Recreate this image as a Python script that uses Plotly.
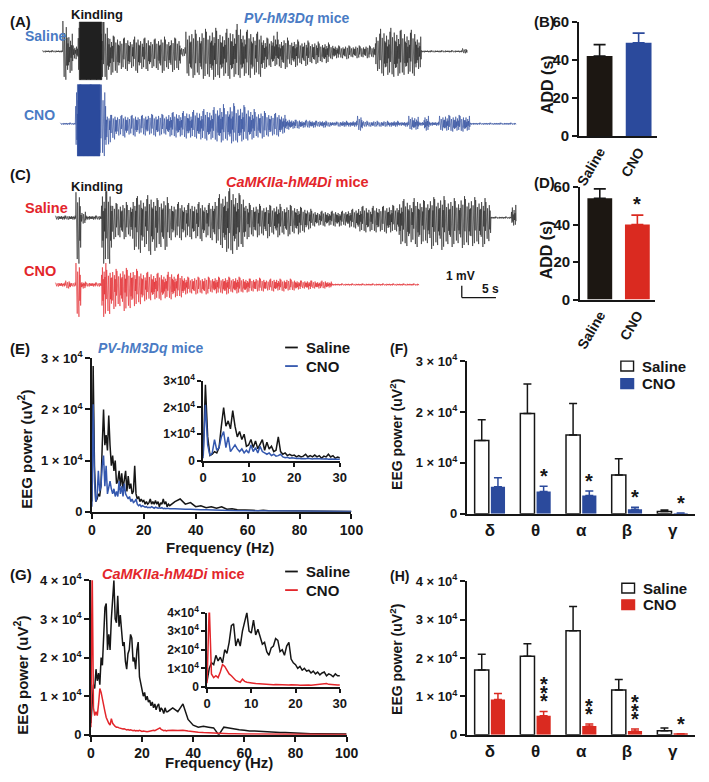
import plotly.graph_objects as go

W, H = 709, 782
FONT = "Liberation Sans"
INK = "#161616"
BLUE = "#2b4a9c"
BLUE_LINE = "#3357ae"
BLUE_TXT = "#4a7bc4"
RED = "#e3262b"
RED_BAR = "#da2a20"

# ---------------- EEG traces (envelope per 0.75 s bin; 12 units = 1 mV) ----------------
BIN_S = 0.75
UNITS_PER_MV = 12

a_sal_up = [1, 1, 1, 1, 31, 18, 6, 30, 30, 30, 30, 30, 30,
            16, 15, 13, 14, 12, 15, 13, 14, 12, 13, 15, 12, 14, 13,
            4,
            20, 22, 18, 23, 20, 24, 21, 19, 23, 22, 28, 20, 22, 18, 20,
            14, 13, 20, 12, 14, 11, 12, 10, 11, 9, 10, 8, 9,
            7, 6, 5, 6, 5, 6, 5, 6, 5,
            18, 23, 20, 24, 21, 22, 19, 22, 15,
            1, 1, 1, 1, 1, 1, 1, 1, 3]
a_sal_dn = [1, 1, 1, 1, 29, 22, 8, 29, 29, 29, 29, 29, 29,
            24, 22, 18, 20, 17, 22, 18, 20, 17, 19, 22, 18, 21, 19,
            5,
            25, 27, 24, 28, 26, 29, 27, 25, 28, 26, 27, 25, 27, 24, 26,
            18, 16, 15, 17, 18, 14, 16, 13, 15, 12, 13, 11, 12,
            8, 7, 7, 8, 6, 7, 6, 7, 6,
            20, 25, 24, 26, 25, 24, 23, 25, 18,
            1, 1, 1, 1, 1, 1, 1, 1, 2]
a_sal_stim_s = [(5.4, 8.7)]

a_cno_up = [1, 1, 1, 40, 40, 40, 40, 40, 40,
            9, 9, 8, 9, 8, 9, 8, 9, 10, 9, 10, 9,
            11, 12, 11, 13, 12, 14, 13, 15, 14,
            17, 20, 16, 21, 18, 19, 17,
            15, 12, 13, 11, 10, 11, 9,
            5, 4, 4, 3, 4, 3, 3, 3, 2, 2, 2, 3, 2, 3,
            8, 3, 2, 3, 2, 3, 2, 3, 2, 2,
            8, 7, 2, 8, 2, 2, 8, 9, 8, 9, 8, 8,
            1, 1, 1, 1, 1, 1, 1, 1, 1]
a_cno_dn = [1, 1, 1, 33, 33, 33, 33, 33, 33,
            21, 16, 12, 14, 11, 13, 10, 12, 11, 13, 12, 11,
            13, 14, 13, 15, 14, 15, 16, 17, 16,
            18, 19, 17, 20, 19, 18, 17,
            16, 14, 15, 13, 12, 13, 10,
            6, 5, 5, 4, 4, 4, 3, 4, 3, 2, 3, 3, 3, 3,
            7, 3, 3, 3, 3, 3, 3, 3, 2, 3,
            6, 6, 2, 7, 2, 2, 7, 7, 8, 7, 8, 7,
            1, 1, 1, 1, 1, 1, 1, 1, 1]
a_cno_stim_s = [(2.5, 5.8)]

c_sal_up = [2, 2, 2, 2, 26, 6, 2, 2, 2, 27, 27,
            15, 14, 16, 13, 20, 22, 19, 23, 20, 18, 21, 15, 14, 16, 13, 15, 14, 16, 13, 15,
            20, 24, 27, 30, 25, 23,
            15, 13, 14, 12, 13, 12, 14, 11, 13, 12, 11, 10, 9,
            7, 6, 7, 6, 7, 6, 7, 8,
            9, 11, 12, 10, 12, 11, 12, 13, 12,
            17, 19, 16, 20, 18, 17, 21, 19, 22, 18, 20, 17, 22, 19, 21, 18, 20, 16,
            1, 1, 1, 1, 13]
c_sal_dn = [2, 2, 2, 2, 47, 6, 2, 2, 2, 47, 47,
            22, 20, 22, 19, 33, 36, 30, 38, 34, 30, 33, 23, 20, 23, 20, 22, 21, 24, 20, 23,
            26, 31, 35, 37, 33, 30,
            22, 19, 20, 18, 21, 17, 20, 17, 19, 16, 17, 15, 12,
            9, 8, 9, 8, 9, 9, 8, 10,
            11, 14, 15, 14, 15, 14, 16, 15, 14,
            27, 29, 25, 30, 27, 26, 32, 28, 33, 27, 30, 26, 31, 28, 29, 27, 30, 24,
            1, 1, 1, 1, 8]
c_sal_stim_s = []

c_cno_up = [2, 2, 4, 2, 22, 3, 2, 2, 2, 22, 15,
            16, 14, 17, 15, 16, 14, 12, 13, 11, 12, 10, 13, 10, 11,
            8, 7, 8, 7, 8, 7, 8, 7, 8, 7, 8, 7, 6,
            6, 7, 6, 5, 6, 6, 5, 6, 5, 4, 4, 4, 4, 3, 4, 3,
            1, 1, 1, 1, 1, 1, 1, 1, 1, 1, 1, 1, 1, 1, 1, 1, 1]
c_cno_dn = [2, 2, 4, 2, 33, 4, 2, 2, 2, 33, 30,
            25, 22, 27, 24, 22, 20, 17, 16, 15, 16, 14, 15, 13, 13,
            10, 9, 10, 9, 10, 8, 9, 9, 10, 8, 9, 8, 8,
            7, 7, 7, 6, 7, 6, 7, 6, 6, 5, 4, 5, 4, 4, 4, 3,
            1, 1, 1, 1, 1, 1, 1, 1, 1, 1, 1, 1, 1, 1, 1, 1, 1]
c_cno_stim_s = []

# ---------------- Power spectra (x10^4 uV^2) ----------------
freq_hz = [i * 0.5 for i in range(61)] + list(range(32, 101, 2))

e_saline = [0.2, 2.85, 0.9, 0.2, 0.25, 0.35, 0.3, 0.5, 1.3, 2.0,
            1.3, 1.5, 1.2, 1.88, 1.3, 0.9, 1.1, 0.8, 1.0, 0.55,
            0.6, 0.8, 0.5, 0.75, 0.45, 0.6, 0.8, 0.4, 0.7, 0.45,
            0.55, 0.35, 0.4, 0.9, 0.35, 0.25, 0.3, 0.2, 0.25, 0.2,
            0.22, 0.15, 0.2, 0.15, 0.18, 0.25, 0.15, 0.2, 0.15, 0.22,
            0.15, 0.2, 0.1, 0.18, 0.15, 0.25, 0.15, 0.2, 0.1, 0.15, 0.12,
            0.2, 0.25, 0.15, 0.18, 0.1, 0.12, 0.08, 0.1, 0.07, 0.1,
            0.05, 0.06, 0.04, 0.04, 0.03, 0.03, 0.02, 0.03, 0.02, 0.02,
            0.02, 0.015, 0.02, 0.015, 0.015, 0.01, 0.015, 0.01, 0.01, 0.01,
            0.01, 0.008, 0.008, 0.008, 0.008]
e_cno = [0.1, 2.1, 0.6, 0.2, 0.3, 0.8, 0.4, 0.5, 0.9, 1.1,
         0.5, 0.9, 0.35, 0.5, 0.6, 0.45, 0.35, 0.45, 0.3, 0.4,
         0.3, 0.6, 0.35, 0.5, 0.3, 0.55, 0.35, 0.3, 0.25, 0.3,
         0.2, 0.25, 0.18, 0.2, 0.25, 0.15, 0.12, 0.14, 0.1, 0.12,
         0.1, 0.09, 0.1, 0.08, 0.09, 0.08, 0.1, 0.08, 0.07, 0.09,
         0.08, 0.07, 0.08, 0.07, 0.08, 0.06, 0.07, 0.06, 0.07, 0.06, 0.06,
         0.06, 0.05, 0.05, 0.05, 0.04, 0.04, 0.04, 0.035, 0.03, 0.03,
         0.025, 0.02, 0.02, 0.02, 0.02, 0.015, 0.015, 0.015, 0.015, 0.015,
         0.01, 0.01, 0.01, 0.01, 0.01, 0.01, 0.01, 0.01, 0.01, 0.01,
         0.008, 0.008, 0.008, 0.008, 0.008]
g_saline = [0.3, 1.0, 1.3, 1.2, 1.7, 1.4, 1.6, 1.3, 2.0, 1.8,
            2.4, 3.3, 3.4, 2.2, 2.6, 2.2, 3.0, 3.6, 4.0, 3.0,
            2.9, 3.6, 2.8, 3.1, 2.7, 2.3, 2.4, 1.9, 1.7, 2.1,
            2.2, 2.6, 2.5, 1.9, 2.0, 1.7, 2.2, 2.4, 1.5, 1.3,
            1.2, 1.0, 1.1, 0.9, 1.0, 0.85, 0.9, 0.75, 0.85, 0.7,
            0.8, 0.65, 0.75, 0.8, 0.6, 0.7, 0.65, 0.55, 0.7, 0.6, 0.6,
            0.7, 0.6, 0.8, 0.4, 0.25, 0.2, 0.22, 0.2, 0.18, 0.0,
            0.2, 0.18, 0.15, 0.13, 0.12, 0.1, 0.1, 0.09, 0.08, 0.08,
            0.07, 0.06, 0.06, 0.05, 0.05, 0.04, 0.04, 0.03, 0.03, 0.03,
            0.02, 0.02, 0.02, 0.02, 0.02]
g_cno = [0.2, 4.4, 0.7, 0.5, 0.6, 0.5, 0.8, 1.2, 1.1, 0.9,
         0.7, 0.6, 0.45, 0.35, 0.3, 0.25, 0.42, 0.3, 0.25, 0.22,
         0.2, 0.2, 0.18, 0.17, 0.16, 0.15, 0.16, 0.14, 0.13, 0.14,
         0.12, 0.13, 0.12, 0.11, 0.12, 0.1, 0.11, 0.1, 0.12, 0.1,
         0.09, 0.1, 0.09, 0.1, 0.08, 0.09, 0.1, 0.09, 0.1, 0.12,
         0.11, 0.13, 0.14, 0.16, 0.18, 0.14, 0.12, 0.11, 0.12, 0.1, 0.11,
         0.12, 0.11, 0.12, 0.1, 0.08, 0.07, 0.06, 0.05, 0.05, 0.04,
         0.03, 0.03, 0.03, 0.02, 0.02, 0.02, 0.02, 0.015, 0.015, 0.015,
         0.01, 0.01, 0.01, 0.01, 0.01, 0.01, 0.01, 0.01, 0.01, 0.01,
         0.01, 0.01, 0.01, 0.01, 0.01]

# ---------------- Bar data ----------------
add_groups = ["Saline", "CNO"]
b_add = [42, 49]
b_add_err = [6, 5]
d_add = [54, 40]
d_add_err = [5, 5]
d_sig = ["", "*"]

bands = ["δ", "θ", "α", "β", "γ"]
f_saline = [1.44, 1.97, 1.55, 0.76, 0.045]
f_saline_err = [0.41, 0.58, 0.62, 0.32, 0.03]
f_cno = [0.53, 0.44, 0.36, 0.09, 0.012]
f_cno_err = [0.18, 0.10, 0.09, 0.04, 0.005]
f_sig = ["", "*", "*", "*", "*"]

h_saline = [1.69, 2.05, 2.71, 1.17, 0.11]
h_saline_err = [0.41, 0.32, 0.63, 0.27, 0.07]
h_cno = [0.92, 0.50, 0.23, 0.10, 0.02]
h_cno_err = [0.16, 0.11, 0.05, 0.05, 0.01]
h_sig = ["", "***", "**", "***", "*"]

# ---------------- helpers ----------------
fig = go.Figure()
axes = {}
annotations = []
shapes = []
n_ax = [0]


def X(px):
    return px / W


def Y(px):
    return 1 - px / H


def add_axes(x_px, y_px, xr, yr, xkw=None, ykw=None):
    n_ax[0] += 1
    s = "" if n_ax[0] == 1 else str(n_ax[0])
    xa = dict(domain=[X(x_px[0]), X(x_px[1])], range=xr, anchor="y" + s, fixedrange=True)
    ya = dict(domain=[Y(y_px[1]), Y(y_px[0])], range=yr, anchor="x" + s, fixedrange=True)
    xa.update(xkw or {})
    ya.update(ykw or {})
    axes["xaxis" + s] = xa
    axes["yaxis" + s] = ya
    return "x" + s, "y" + s


def font(size, color=INK, bold=True):
    return dict(family=FONT, size=size, color=color, weight="bold" if bold else "normal")


def axstyle(size=14, **kw):
    d = dict(showline=True, linecolor=INK, linewidth=1.6, ticks="outside", ticklen=5,
             tickwidth=1.6, tickcolor=INK, showgrid=False, zeroline=False,
             tickfont=font(size))
    d.update(kw)
    return d


def label(s, xpx, ypx, size, color=INK, xanchor="left", yanchor="middle", angle=0):
    annotations.append(dict(text=s, x=X(xpx), y=Y(ypx), xref="paper", yref="paper",
                            showarrow=False, xanchor=xanchor, yanchor=yanchor,
                            textangle=angle, font=font(size, color)))


# sub-sample stroke pattern used to draw each envelope bin as dense EEG-like strokes
SUB_UP = [1.0, 0.35, 0.6, 0.25, 0.8, 0.45]
SUB_DN = [0.45, 0.9, 0.3, 1.0, 0.5, 0.65]


def zigzag(up, dn):
    t, v = [], []
    n = len(SUB_UP)
    for i, (u, d) in enumerate(zip(up, dn)):
        order = list(range(n)) if i % 2 == 0 else list(range(n - 1, -1, -1))
        for j, k in enumerate(order):
            t0 = (i + j / n) * BIN_S
            t += [t0, t0 + 0.5 * BIN_S / n]
            v += [u * SUB_UP[k], -d * SUB_DN[k]]
    return t, v


# ---------------- EEG panels ----------------
PX_PER_S = 7.0
PX_PER_MV = 12.0
hidden = dict(visible=False)
eeg_specs = [
    (a_sal_up, a_sal_dn, a_sal_stim_s, "#202020", 38.3, 43.3),
    (a_cno_up, a_cno_dn, a_cno_stim_s, BLUE, 56.7, 117.3),
    (c_sal_up, c_sal_dn, c_sal_stim_s, "#202020", 51.7, 213.3),
    (c_cno_up, c_cno_dn, c_cno_stim_s, RED, 51.7, 281.7),
]
for up, dn, stims, col, x0, base in eeg_specs:
    top, bot = max(0.0, base - 60), min(H, base + 60)
    k = UNITS_PER_MV / PX_PER_MV
    xa, ya = add_axes((0, 530), (top, bot),
                      [-x0 / PX_PER_S, (530 - x0) / PX_PER_S],
                      [-(bot - base) * k, (base - top) * k], hidden, hidden)
    t, v = zigzag(up, dn)
    fig.add_trace(go.Scatter(x=t, y=v, mode="lines", line=dict(color=col, width=0.6),
                             xaxis=xa, yaxis=ya, showlegend=False, hoverinfo="skip"))
    for s0, s1 in stims:
        i0, i1 = int(s0 / BIN_S), int(s1 / BIN_S) + 1
        hi, lo = max(up[i0:i1]), max(dn[i0:i1])
        fig.add_trace(go.Scatter(x=[s0, s1, s1, s0, s0], y=[hi, hi, -lo, -lo, hi], mode="lines",
                                 fill="toself", fillcolor=col, line=dict(color=col, width=0.5),
                                 xaxis=xa, yaxis=ya, showlegend=False, hoverinfo="skip"))

# scale bar (1 mV / 5 s)
sb_x, sb_y = 468, 295
shapes.append(dict(type="line", xref="paper", yref="paper", x0=X(sb_x), x1=X(sb_x),
                   y0=Y(sb_y), y1=Y(sb_y - PX_PER_MV), line=dict(color=INK, width=1.3)))
shapes.append(dict(type="line", xref="paper", yref="paper", x0=X(sb_x), x1=X(sb_x + 5 * PX_PER_S),
                   y0=Y(sb_y), y1=Y(sb_y), line=dict(color=INK, width=1.3)))
label("1 mV", 450, 273, 12)
label("5 s", 487, 286, 12)


# ---------------- ADD bars (B, D) ----------------
def add_bars(x_px, y_px, means, errs, cols, sig):
    xa, ya = add_axes(x_px, y_px, [-0.53, 1.47], [0, 60],
                      axstyle(14, ticks="", tickvals=[0, 1], ticktext=add_groups, tickangle=-60),
                      axstyle(15, tickvals=[0, 20, 40, 60]))
    for i in range(2):
        fig.add_trace(go.Bar(x=[i], y=[means[i]], width=0.66, marker=dict(color=cols[i], line=dict(width=0)),
                             error_y=dict(type="data", array=[errs[i]], arrayminus=[0], symmetric=False,
                                          color=cols[i] if i else INK, thickness=1.6, width=6),
                             xaxis=xa, yaxis=ya, showlegend=False, hoverinfo="skip"))
        if sig[i]:
            annotations.append(dict(text=sig[i], x=i, y=means[i] + errs[i], xref=xa, yref=ya,
                                    showarrow=False, yanchor="bottom", yshift=-2, font=font(20)))


add_bars((588, 668), (13, 130), b_add, b_add_err, ["#1c1712", BLUE], ["", ""])
add_bars((589, 666), (182, 297), d_add, d_add_err, ["#1c1712", RED_BAR], d_sig)
label("ADD (s)", 556, 77, 16, angle=-90, xanchor="center")
label("ADD (s)", 555, 246, 16, angle=-90, xanchor="center")


# ---------------- Spectra (E, G) ----------------
def sup_ticks(n, sp=" × "):
    return ["0"] + [f"{i}{sp}10<sup>4</sup>" for i in range(1, n + 1)]


def spectrum(main_x, main_y, ins_x, ins_y, ymax, sal, cno, cno_col):
    xa, ya = add_axes(main_x, main_y, [0, 100], [0, ymax],
                      axstyle(14, tickvals=[0, 20, 40, 60, 80, 100]),
                      axstyle(13, tickvals=list(range(ymax + 1)), ticktext=sup_ticks(ymax)))
    xi, yi = add_axes(ins_x, ins_y, [0, 30], [0, ymax],
                      axstyle(13, tickvals=[0, 10, 20, 30], ticklen=4),
                      axstyle(12, tickvals=list(range(ymax + 1)), ticktext=sup_ticks(ymax, "×"), ticklen=4))
    for a, b in ((xa, ya), (xi, yi)):
        fig.add_trace(go.Scatter(x=freq_hz, y=sal, mode="lines", line=dict(color=INK, width=1.5),
                                 xaxis=a, yaxis=b, showlegend=False, hoverinfo="skip"))
        fig.add_trace(go.Scatter(x=freq_hz, y=cno, mode="lines", line=dict(color=cno_col, width=1.5),
                                 xaxis=a, yaxis=b, showlegend=False, hoverinfo="skip"))


spectrum((89, 355), (357, 514), (203, 343), (380, 462), 3, e_saline, e_cno, BLUE_LINE)
spectrum((88, 350), (584, 742), (207, 343), (617, 693), 4, g_saline, g_cno, RED)


# ---------------- Band power bars (F, H) ----------------
def band_bars(x_px, y_px, ymax, sal, sal_err, cno, cno_err, col, sig, stack):
    xa, ya = add_axes(x_px, y_px, [-0.51, 4.49], [0, ymax],
                      axstyle(17, ticks="", tickvals=list(range(5)), ticktext=bands),
                      axstyle(13, tickvals=list(range(ymax + 1)), ticktext=sup_ticks(ymax)))
    xs = list(range(5))
    fig.add_trace(go.Bar(x=xs, y=sal, width=0.31, offset=-0.335,
                         marker=dict(color="white", line=dict(color=INK, width=1.5)),
                         error_y=dict(type="data", array=sal_err, arrayminus=[0] * 5, symmetric=False,
                                      color=INK, thickness=1.5, width=4),
                         xaxis=xa, yaxis=ya, showlegend=False, hoverinfo="skip"))
    fig.add_trace(go.Bar(x=xs, y=cno, width=0.31, offset=0.02,
                         marker=dict(color=col, line=dict(width=0)),
                         error_y=dict(type="data", array=cno_err, arrayminus=[0] * 5, symmetric=False,
                                      color=col, thickness=1.5, width=4),
                         xaxis=xa, yaxis=ya, showlegend=False, hoverinfo="skip"))
    for i, s in enumerate(sig):
        if not s:
            continue
        if stack:
            # stars stacked vertically above the CNO bar
            for kk in range(len(s)):
                annotations.append(dict(text="*", x=i + 0.175, y=cno[i] + cno_err[i], xref=xa, yref=ya,
                                        showarrow=False, yanchor="bottom", yshift=-3 + 8.5 * kk,
                                        font=font(20)))
        else:
            annotations.append(dict(text=s, x=i + 0.175, y=cno[i] + cno_err[i], xref=xa, yref=ya,
                                    showarrow=False, yanchor="bottom", yshift=-3, font=font(20)))


band_bars((473, 707), (360, 516), 3, f_saline, f_saline_err, f_cno, f_cno_err, BLUE, f_sig, False)
band_bars((473, 707), (585, 742), 4, h_saline, h_saline_err, h_cno, h_cno_err, RED_BAR, h_sig, True)


# ---------------- legends ----------------
def line_legend(x, y, items):
    for j, (name, col) in enumerate(items):
        yy = y + j * 19
        shapes.append(dict(type="line", xref="paper", yref="paper", x0=X(x), x1=X(x + 13),
                           y0=Y(yy), y1=Y(yy), line=dict(color=col, width=1.8)))
        label(name, x + 19, yy, 15)


def box_legend(x, y, items, dy):
    for j, (name, fill, edge) in enumerate(items):
        yy = y + j * dy
        shapes.append(dict(type="rect", xref="paper", yref="paper", x0=X(x), x1=X(x + 13),
                           y0=Y(yy + 5), y1=Y(yy - 5), fillcolor=fill, line=dict(color=edge, width=1.4)))
        label(name, x + 20, yy, 15)


line_legend(287, 346, [("Saline", INK), ("CNO", BLUE_LINE)])
line_legend(287, 575, [("Saline", INK), ("CNO", RED)])
box_legend(631, 365, [("Saline", "white", INK), ("CNO", BLUE, BLUE)], 18)
box_legend(632, 592, [("Saline", "white", INK), ("CNO", RED_BAR, RED_BAR)], 17)

# ---------------- texts ----------------
label("(A)", 3, 13, 15)
label("Kindling", 66, 6, 13)
label("<i>PV-hM3Dq</i> mice", 243, 9, 14, BLUE_TXT)
label("Saline", 18, 28, 14, BLUE_TXT)
label("CNO", 17, 108, 14, BLUE_TXT)
label("(B)", 540, 13, 15)
label("(C)", 3, 169, 15)
label("Kindling", 66, 181, 13)
label("<i>CaMKIIa-hM4Di</i> mice", 224, 177, 14.5, RED)
label("Saline", 18, 203, 14.5, RED)
label("CNO", 17, 268, 14.5, RED)
label("(D)", 540, 177, 15)
label("(E)", 3, 347, 15)
label("<i>PV-hM3Dq</i> mice", 93, 347, 14, BLUE_TXT)
label("(F)", 392, 348, 14)
label("(G)", 3, 578, 15)
label("<i>CaMKIIa-hM4Di</i> mice", 97, 578, 14.5, RED)
label("(H)", 392, 580, 14)
label("EEG power (uV<sup>2</sup>)", 20, 450, 15, angle=-90, xanchor="center")
label("EEG power (uV<sup>2</sup>)", 16, 681, 15, angle=-90, xanchor="center")
label("EEG power (uV<sup>2</sup>)", 400, 435, 14, angle=-90, xanchor="center")
label("EEG power (uV<sup>2</sup>)", 400, 665, 14, angle=-90, xanchor="center")
label("Frequency (Hz)", 220, 550, 15, xanchor="center")
label("Frequency (Hz)", 219, 770, 15, xanchor="center")

fig.update_layout(width=W, height=H, autosize=False, margin=dict(l=0, r=0, t=0, b=0),
                  paper_bgcolor="white", plot_bgcolor="rgba(0,0,0,0)", barmode="overlay",
                  font=dict(family=FONT, color=INK), annotations=annotations, shapes=shapes,
                  **axes)
fig.write_html("out.html", config={"displayModeBar": False},
               post_script="document.body.style.margin='0px';")
